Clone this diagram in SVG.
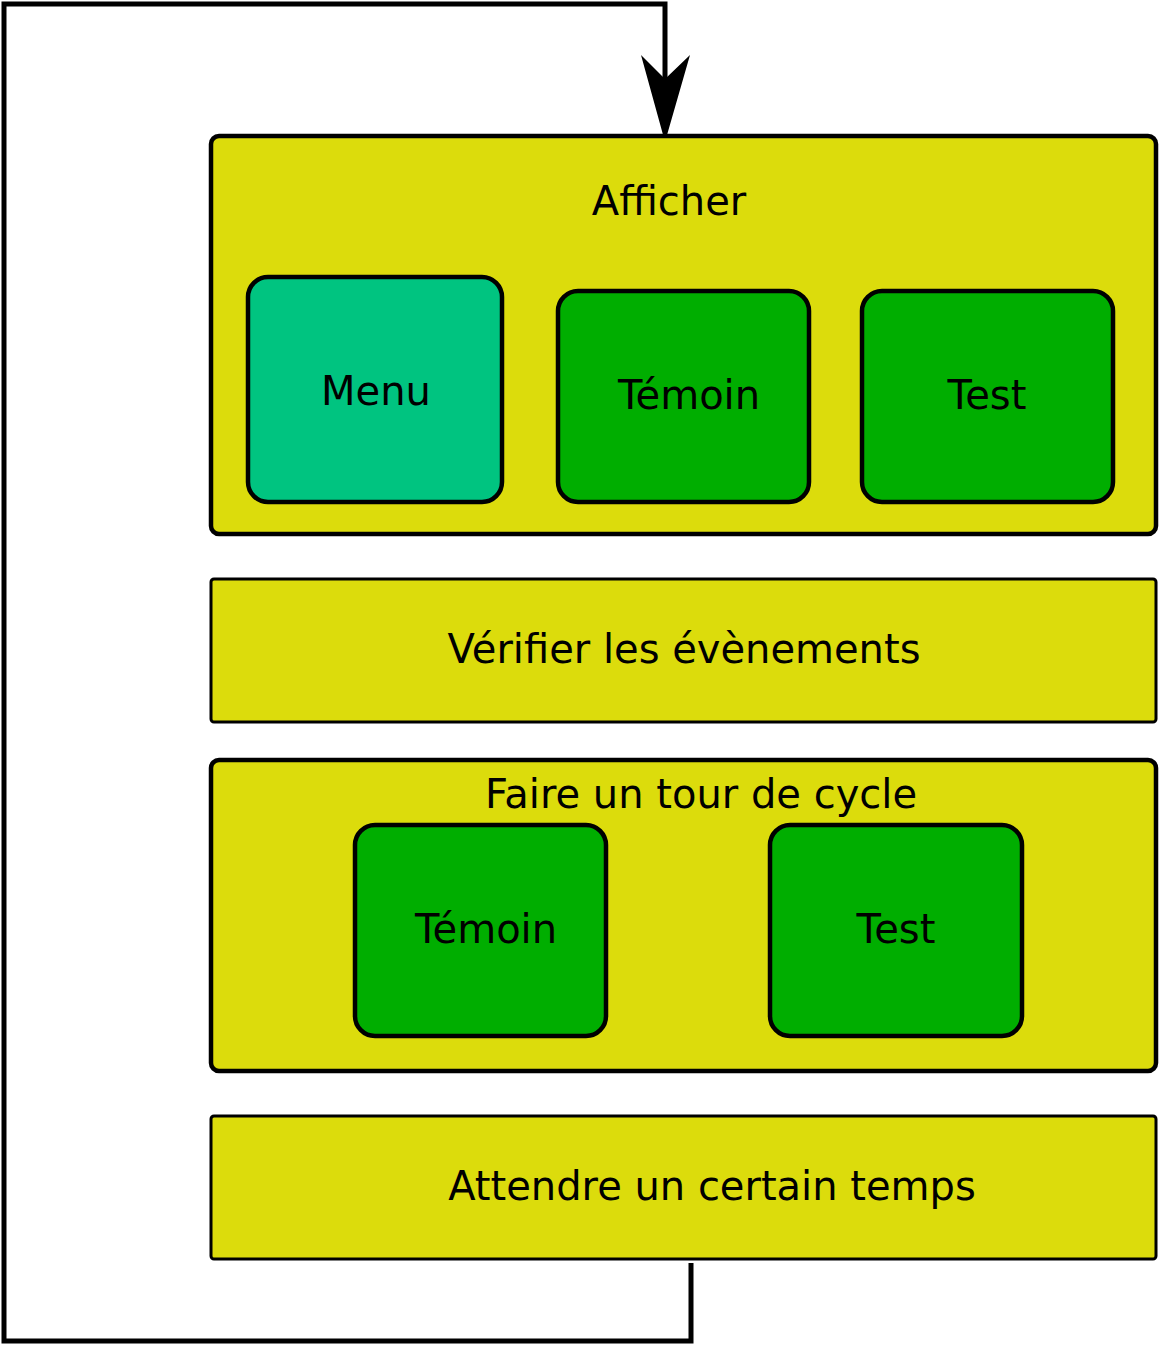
<svg xmlns="http://www.w3.org/2000/svg" width="1160" height="1345" viewBox="0 0 1160 1345">
<style>
.outer{fill:#dcdc0c;stroke:#000;stroke-width:4.5}
.thin{fill:#dcdc0c;stroke:#000;stroke-width:3}
.menu{fill:#00c480;stroke:#000;stroke-width:4.5}
.inner{fill:#00ae00;stroke:#000;stroke-width:4.5}
text{font-family:"DejaVu Sans",sans-serif;font-size:40px;fill:#000;text-anchor:middle}
.conn{fill:none;stroke:#000;stroke-width:5}
</style>
<rect width="1160" height="1345" fill="#fff"/>
<g id="connectors">
<path class="conn" d="M691,1263 V1341 H4 V4 H665 V80"/>
<path d="M665,142 L641,55 L665,79 L690,55 Z" fill="#000"/>
</g>
<g id="afficher">
<rect class="outer" x="211" y="136" width="945" height="398" rx="8"/>
<text x="669" y="215">Afficher</text>
</g>
<g id="menu">
<rect class="menu" x="248" y="277" width="254" height="225" rx="20"/>
<text x="376" y="405">Menu</text>
</g>
<g id="temoin1">
<rect class="inner" x="558" y="291" width="251" height="211" rx="20"/>
<text x="689" y="409">Témoin</text>
</g>
<g id="test1">
<rect class="inner" x="862" y="291" width="251" height="211" rx="20"/>
<text x="987" y="409">Test</text>
</g>
<g id="verifier">
<rect class="thin" x="211" y="579" width="945" height="143" rx="3"/>
<text x="684" y="663">Vérifier les évènements</text>
</g>
<g id="faire">
<rect class="outer" x="211" y="760" width="945" height="311" rx="8"/>
<text x="701" y="808">Faire un tour de cycle</text>
</g>
<g id="temoin2">
<rect class="inner" x="355" y="825" width="251" height="211" rx="20"/>
<text x="486" y="943">Témoin</text>
</g>
<g id="test2">
<rect class="inner" x="770" y="825" width="252" height="211" rx="20"/>
<text x="896" y="943">Test</text>
</g>
<g id="attendre">
<rect class="thin" x="211" y="1116" width="945" height="143" rx="3"/>
<text x="712" y="1200">Attendre un certain temps</text>
</g>
</svg>
